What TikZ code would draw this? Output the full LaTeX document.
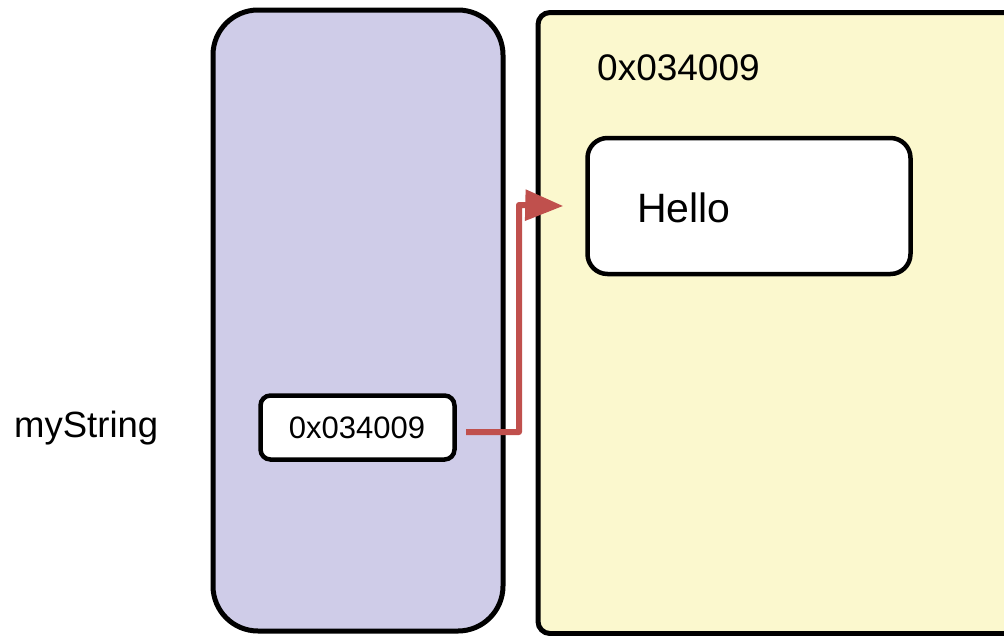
\documentclass[tikz,border=0pt]{standalone}
\usepackage{fontspec}
\setmainfont{Liberation Sans}
\usetikzlibrary{arrows.meta}
\definecolor{stackfill}{HTML}{CFCCE8}
\definecolor{heapfill}{HTML}{FBF8CE}
\definecolor{ptrred}{HTML}{C0504D}
\tikzset{
  region/.style={draw=black, line width=5pt, rounded corners=#1, inner sep=0pt},
  cell/.style={draw=black, fill=white, line width=4.5pt, rounded corners=#1, inner sep=0pt},
  ptr/.style={draw=ptrred, line width=6pt, line join=round, -{Triangle[length=38pt,width=30pt]}},
  lbl/.style={inner sep=0pt, anchor=base}
}
\begin{document}
\begin{tikzpicture}[x=1pt,y=-1pt]
\clip (0,0) rectangle (1004,635);
\fill[white] (0,0) rectangle (1004,635);
% stack region
\node[region=45pt, fill=stackfill, minimum width=290pt, minimum height=621pt] (stack) at (358,320.5) {};
% heap region (cut off at right)
\node[region=12pt, fill=heapfill, minimum width=560pt, minimum height=621pt, anchor=north west] (heap) at (535.5,10) {};
% cells
\node[cell=10pt, minimum width=194pt, minimum height=64pt] (ptrcell) at (357.5,427.5) {};
\node[lbl] (ptrtext) at (357,438) {\fontsize{31}{36}\selectfont 0x034009};
\node[cell=20pt, minimum width=323pt, minimum height=136pt] (hello) at (749,206) {};
\node[lbl, anchor=base west] (hellotext) at (637,222) {\fontsize{41}{48}\selectfont Hello};
\node[lbl, anchor=base west] (addr) at (597,80) {\fontsize{37}{42}\selectfont 0x034009};
\node[lbl, anchor=base west] (name) at (14,437) {\fontsize{36.5}{42}\selectfont myString};
% pointer
\coordinate (p0) at (466,432);
\coordinate (p1) at ([xshift=-22pt]hello.west);
\draw[ptr] (p0) -- (519,432) -- (519,205) -- (p1);
\end{tikzpicture}
\end{document}
